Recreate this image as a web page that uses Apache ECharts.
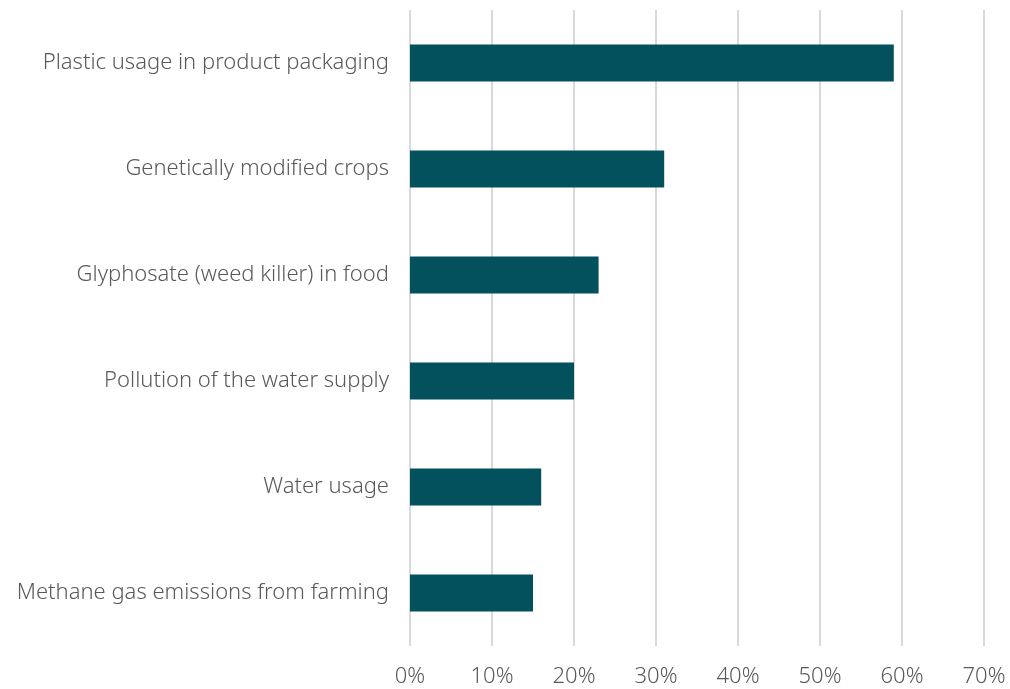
<!DOCTYPE html>
<html><head><meta charset="utf-8">
<script src="https://cdn.jsdelivr.net/npm/echarts@6/dist/echarts.min.js"></script>
<style>html,body{margin:0;padding:0;background:#fff}#c{width:1010px;height:689px}</style>
</head><body><div id="c"></div>
<script>
var categories = ["Methane gas emissions from farming","Water usage","Pollution of the water supply","Glyphosate (weed killer) in food","Genetically modified crops","Plastic usage in product packaging"];
var values = [15, 16, 20, 23, 31, 59];
var xTicks = [0,10,20,30,40,50,60,70];
var font = "'Noto Sans', 'Open Sans', sans-serif";
var chart = echarts.init(document.getElementById('c'));
chart.setOption({
  animation:false,
  grid:{left:410,right:26,top:10,bottom:43,containLabel:false},
  xAxis:{type:'value',min:0,max:70,interval:10,
    axisLine:{show:false},axisTick:{show:false},
    splitLine:{show:true,lineStyle:{color:'#d9d9d9',width:2}},
    axisLabel:{formatter:function(v){return v+'%';},color:'#595959',fontFamily:font,fontWeight:300,fontSize:22,margin:20}},
  yAxis:{type:'category',data:categories,
    axisLine:{show:false},axisTick:{show:false},
    axisLabel:{color:'#595959',fontFamily:font,fontWeight:300,fontSize:22,margin:21}},
  series:[{type:'bar',data:values,barWidth:37,itemStyle:{color:'#02515C'}}]
});
</script></body></html>
